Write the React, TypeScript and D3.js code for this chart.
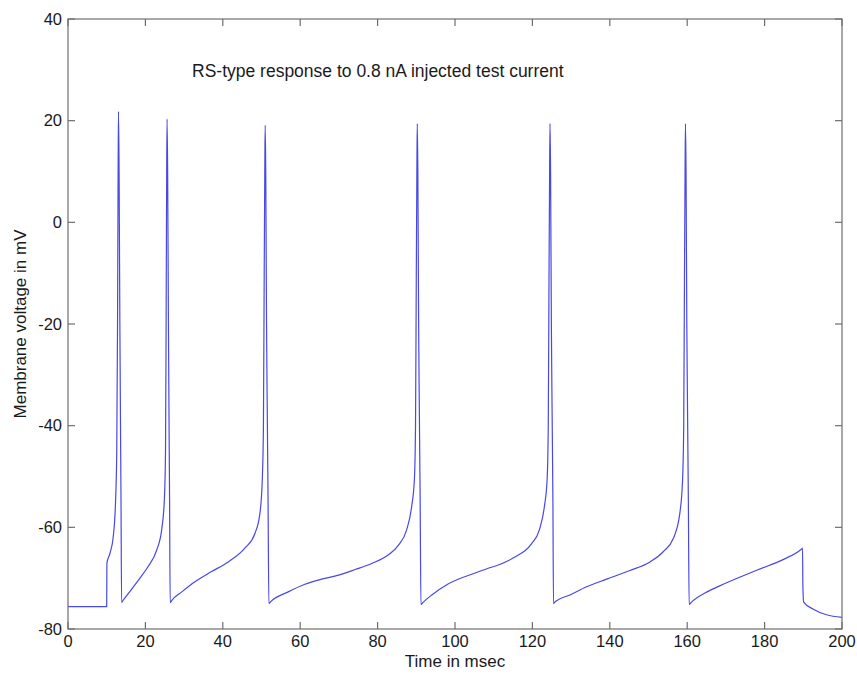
import React from "react";
import * as d3 from "d3";

const timeMs = [
  0, 10, 10.05, 10.85, 11.7, 12.3, 12.6, 12.8, 12.95, 13.05, 13.2, 13.4, 13.55, 13.7, 13.85,
  14.3, 15.6, 18.2, 20.7, 22.9, 24.2, 24.9, 25.2, 25.35, 25.5, 25.6, 25.75, 25.95, 26.1, 26.25, 26.4,
  26.9, 29.4, 32.8, 37.1, 41.4, 45.7, 48.3, 49.6, 50.2, 50.5, 50.7, 50.85, 50.95, 51.1, 51.3, 51.5, 51.7, 51.9,
  52.4, 56.9, 61.2, 65.5, 69.9, 74.2, 78.5, 82.8, 85.4, 87.5, 88.8, 89.5, 89.8, 90.0, 90.15, 90.25, 90.4, 90.6, 90.8, 91.0, 91.2,
  91.7, 94.0, 98.1, 106.6, 115.1, 119.7, 121.8, 123.1, 123.8, 124.1, 124.3, 124.45, 124.55, 124.7, 124.9, 125.1, 125.3, 125.45,
  125.95, 129.7, 134.0, 139.2, 145.2, 150.4, 153.8, 156.4, 158.1, 158.8, 159.1, 159.3, 159.45, 159.55, 159.7, 159.9, 160.1, 160.3, 160.5,
  161.0, 165.4, 169.6, 178.1, 184.9, 189.5, 189.8, 189.9, 190.1, 192.6, 196.0, 200.0,
];

const voltageMv = [
  -75.6, -75.6, -67.1, -65.1, -61.8, -54.6, -45, -20, 10, 21.8, 10, -20, -38, -55, -74.8,
  -74.3, -73.0, -70.4, -67.7, -64.5, -60.5, -54.6, -45, -20, 10, 20.3, 10, -20, -38, -55, -74.8,
  -74.3, -72.7, -70.7, -68.7, -66.8, -64.1, -61.2, -57.2, -50.7, -40, -10, 10, 19.1, 10, -20, -38, -55, -75.0,
  -74.6, -72.7, -71.2, -70.2, -69.4, -68.3, -67.1, -65.4, -63.5, -60.5, -55.9, -50.7, -40, -10, 10, 19.4, 10, -20, -38, -55, -75.2,
  -74.8, -73.3, -71.2, -68.6, -66.0, -63.3, -60.5, -55.9, -50.7, -40, -10, 10, 19.4, 10, -20, -38, -55, -75.0,
  -74.6, -73.3, -71.7, -70.2, -68.5, -66.8, -64.8, -62.2, -57.2, -50.7, -40, -10, 10, 19.4, 10, -20, -38, -55, -75.2,
  -74.8, -72.6, -71.1, -68.4, -66.3, -64.3, -64.1, -71.9, -74.7, -76.1, -77.2, -77.7,
];

const xTicks = [0, 20, 40, 60, 80, 100, 120, 140, 160, 180, 200];
const yTicks = [-80, -60, -40, -20, 0, 20, 40];

const titleText = "RS-type response to 0.8 nA injected test current";
const xLabel = "Time in msec";
const yLabel = "Membrane voltage in mV";

export default function App() {
  const W = 857;
  const H = 675;
  const left = 68;
  const right = 842;
  const top = 19;
  const bottom = 629;

  const x = d3.scaleLinear().domain([0, 200]).range([left, right]);
  const y = d3.scaleLinear().domain([-80, 40]).range([bottom, top]);

  const pts = timeMs.map((t, i) => [t, voltageMv[i]] as [number, number]);
  const line = d3
    .line<[number, number]>()
    .x((d) => x(d[0]))
    .y((d) => y(d[1]))
    .curve(d3.curveMonotoneX);

  const axisColor = "#6e6e6e";
  const textColor = "#1a1a1a";
  const font = "'Liberation Sans', Arial, sans-serif";
  const tl = 7;

  return (
    <svg
      width={W}
      height={H}
      style={{ position: "absolute", left: 0, top: 0, background: "#fff" }}
      fontFamily={font}
    >
      <rect x={0} y={0} width={W} height={H} fill="#fff" />
      <path d={line(pts) || ""} fill="none" stroke="#4848e6" strokeWidth={1.2} strokeLinejoin="round" />
      <rect
        x={left}
        y={top}
        width={right - left}
        height={bottom - top}
        fill="none"
        stroke={axisColor}
        strokeWidth={1.2}
      />
      {xTicks.map((t) => (
        <g key={"xt" + t}>
          <line x1={x(t)} x2={x(t)} y1={bottom} y2={bottom - tl} stroke={axisColor} strokeWidth={1.2} />
          <line x1={x(t)} x2={x(t)} y1={top} y2={top + tl} stroke={axisColor} strokeWidth={1.2} />
          <text x={x(t)} y={bottom + 18} textAnchor="middle" fontSize={16.5} fill={textColor}>
            {t}
          </text>
        </g>
      ))}
      {yTicks.map((v) => (
        <g key={"yt" + v}>
          <line x1={left} x2={left + tl} y1={y(v)} y2={y(v)} stroke={axisColor} strokeWidth={1.2} />
          <line x1={right} x2={right - tl} y1={y(v)} y2={y(v)} stroke={axisColor} strokeWidth={1.2} />
          <text x={left - 6} y={y(v)} dy="0.35em" textAnchor="end" fontSize={16.5} fill={textColor}>
            {v}
          </text>
        </g>
      ))}
      <text x={(left + right) / 2} y={667} textAnchor="middle" fontSize={17} fill={textColor}>
        {xLabel}
      </text>
      <text
        transform={`translate(26, ${(top + bottom) / 2}) rotate(-90)`}
        textAnchor="middle"
        fontSize={17}
        fill={textColor}
      >
        {yLabel}
      </text>
      <text x={192} y={77} fontSize={17.5} fill={textColor}>
        {titleText}
      </text>
    </svg>
  );
}
